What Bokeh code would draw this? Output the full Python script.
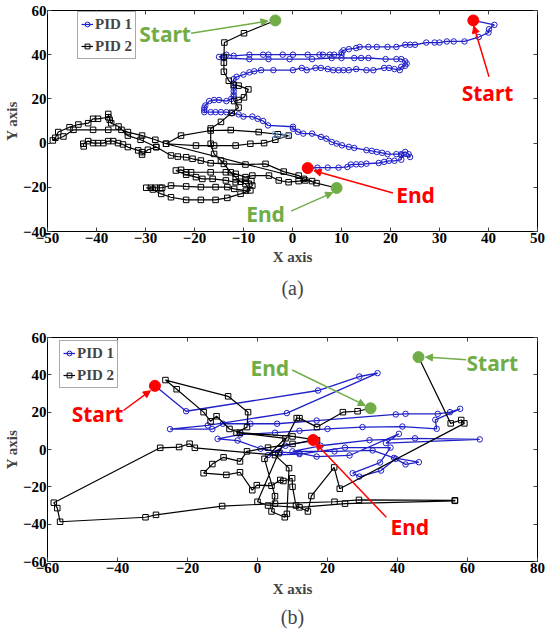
from bokeh.plotting import figure
from bokeh.models import (LinearAxis, FixedTicker, Label, Arrow, NormalHead,
                          Legend, LegendItem, Range1d)
from bokeh.layouts import column
from bokeh.embed import file_html
from bokeh.resources import INLINE

NaN = float("nan")

# ---------------- (a) data ----------------
a_pid1 = [(36.9,55.5),(41.2,53.5),(40.1,51.5),(40,50),(38,48),(35.1,46),(32.9,46),(31.5,46),(30,45.5),(29,45.5),
          (27.3,45.5),(25,44.5),(24,44.5),(23,44.5),(21.2,43.5),(19.4,43.5),(17.2,43.5),(15.5,43.5),(13.7,43.5),(13,43),
          (11.5,42.5),(10.4,42),(10,41),(10,40),(8.5,40),(7.6,40),(6.2,40),(5.5,40),(3.1,40),(0.1,40),(-2,40),(-4.9,40),
          (-6,40),(-8.8,40),(-12,39.5),(-13.5,40),(-15,39),(-14,38.5),(-8.8,38),(-4.9,38),(-0.6,38),(4,38),(8,38.5),
          (10,38.5),(12.6,38.5),(14,38.5),(15.5,38.5),(19,38),(21.2,38),(22.2,38),(23,37),(23.3,36),(23,35),(22.2,34.5),
          (21.9,33),(20.8,33.5),(19.7,34),(18.7,34),(16.5,33),(15.1,33),(13,33.5),(11.5,33),(10.4,33),(9.4,33),(8.3,33),
          (7.2,33.5),(5.8,34),(4.7,34),(2.9,33),(1.9,34),(0.1,33),(-3.9,33),(-6.4,33),(-7.8,32.5),(-8.8,32),(-10,31),
          (-11.4,30),(-12,29),(-12,27),(-12,25),(-12,23.5),(-12,22),(-12,21),(-12.5,20),(-13.5,19),(-15,19.5),(-16,19.5),
          (-17,19),(-17.8,17),(-18,16),(-18,15),(-18,14),(-16.7,14),(-15.7,14),(-14.6,14),(-13.5,14),(-12.4,13.5),(-11,13),
          (-10,12),(-8.2,12),(-7.1,11),(-6,10),(-5,8),(0.1,7.4),(0.1,6.5),(1.1,5.1),(2.2,4.3),(4,4.3),(5.8,2.8),(6.9,2),
          (8,0.5),(9,-0.2),(10.1,-1),(11.5,-1.7),(12.6,-2.2),(15.1,-3.2),(16.2,-3.5),(17.2,-4),(18.3,-4.4),(19.4,-5),
          (21.2,-5),(22.2,-5),(23,-4),(23.7,-5),(24,-6.3),(22.2,-5.5),(22.2,-7.5),(20.8,-8),(19.7,-8),(18.7,-8.5),
          (17.6,-9),(15.1,-9.3),(14,-9.6),(13,-9.6),(11.9,-9.7),(11.2,-10.8),(9.4,-11.1),(7.2,-11.1),(5.1,-11.1),(3.1,-11.3)]
a_pid1_x = [p[0] for p in a_pid1]
a_pid1_y = [p[1] for p in a_pid1]

a_pid2 = [(-3.5,55.5),(-9.9,49.7),(-13.9,45.5),(-14,39),(-14,36.4),(-14,32.3),(-13,28.2),(-12,26.3),(-11,26),(-9,24.3),
          (-9.9,20.7),(-11,19.5),(-11.9,19),(-11,16.1),(-12.4,13.7),(-14.6,9.6),(-16.7,6.6),(-16.7,-0.3),(-16,-4.9),
          (-14.6,-7.9),(-14,-9.4),(-12.6,-13.2),(-11.6,-15.5),(-10.6,-17.5),(-9.6,-18.5),(-8.6,-21.4),(-10.6,-22.95),
          (-13.3,-24.8),(-15.7,-25.7),(-18.7,-25.7),(-21.7,-25.7),(-24.8,-24.5),(-26.8,-23),(-28.5,-21),(-29.85,-20.2),
          (-28.9,-20.2),(-28,-20.2),(-27,-20.2),(-26.6,-20.2),(-24.8,-19.2),(-21.7,-19.6),(-18.7,-19.9),(-15.7,-19.9),
          (-13.3,-19.9),(-11.9,-20.7),(-9.5,-21.5),(-8.2,-19.2),(-8.4,-17.2),(-9.6,-17),(-11.6,-17.7),(-13.6,-16.9),
          (-16.3,-16.2),(-18.4,-16.2),(-19.7,-15.4),(-21.7,-14.3),(-23.8,-12.4),(-22.75,-12.1),(-21.7,-13.2),(-20.7,-13.2),
          (-16.7,-13.2),(-13.6,-13.2),(-11.6,-13.9),(-9.6,-15.4),(-8.2,-14.7),(-4.8,-14.7),(-2.8,-16.9),(-0.8,-17.7),
          (1.25,-17.2),(2.6,-16.9),(4,-17.2),(-25.8,-0.3),(-22.75,3.4),(-16.7,5.7),(-12.6,5.9),(-6.9,5),(-3,4),(-0.8,3.4),
          (-3.5,1.5),(-5.8,0),(-8.6,-0.3),(-11.6,-1.1),(-16,-1.1),(-19.7,-1.1),(-25.8,-0.3),(-28,1.5),(-30.7,3.4),
          (-33.6,5),(-34.9,6),(-37.6,6),(-40.7,6),(-44.7,6),(-46.75,3),(-48.9,1.2),(-48.4,2.4),(-47.8,5),(-45.5,7.2),
          (-43.7,8.4),(-41.7,9),(-40.7,11),(-39.7,11),(-37.6,11.7),(-37.6,13.2),(-37.3,10.5),(-37,9),(-35.5,7.5),
          (-33.6,3.4),(-31,1.5),(-27.8,-1.8),(-24.8,-5.6),(-23.4,-6.1),(-21.7,-6.4),(-20.4,-7.1),(-18.7,-7.9),(-16.7,-9.1),
          (-9.6,-9.7),(-5.5,-9.4),(-1.8,-12.9),(1.25,-14.7),(2.3,-16.2),(4.9,-18.1),(9,-20.3),
          (NaN,NaN),
          (-42.6,-1.5),(-42.7,-0.3),(-41.7,0.9),(-40.7,0),(-39.7,0),(-38.6,0),(-37.6,0.9),(-36.6,0.9),(-35.6,0),
          (-34.6,-0.6),(-33.6,-1.8),(-31.5,-3.3),(-30.7,-4.1),(-30.7,-5.2),(-29.5,-3),(-27.8,-1.8)]
a_pid2_x = [p[0] for p in a_pid2]
a_pid2_y = [p[1] for p in a_pid2]

# ---------------- (b) data ----------------
b_pid1 = [(-29.3,34.1),(-20.4,20.5),(17.3,31.6),(29.1,39.1),(34.3,40.9),(8.4,19.5),(-14.2,12.9),(-25,10.9),(-12.9,10.9),
          (-9.9,13.8),(-2,13.8),(5.6,13.8),(16.9,15.5),(39.5,18.8),(42.3,19.1),(51.5,19.1),(55,20),(57.9,21.8),(50.8,15.9),
          (51.2,11.1),(41.4,12.3),(30,12),(20,11),(12,10),(5,9),(-5,8),(-11.4,5.7),(-5.7,4.8),(0.9,0.4),(6.5,-1.4),(12,-2),
          (16.9,-3.8),(26.3,-3.2),(40.4,8.4),(36.7,3.4),(63.5,5.4),(45,6),(32,5),(18,2),(10,-1),(22,-1),(32.9,-0.5),
          (39,-4.5),(46.1,-6.8),(42.3,-8),(39.5,-5),(35.3,-11.3),(29.1,-14.5),(27.2,-12.7),(35,-7),(38,1),(25,1),(12,-2.5),
          (3,-3),(8,2),(15.9,5.1)]
b_pid1_x = [p[0] for p in b_pid1]
b_pid1_y = [p[1] for p in b_pid1]

b_pid2 = [(46,49.5),(55.2,14),(58.2,15.8),(59.1,14),(23.5,-21),(21.9,-9.6),(15.4,-24.9),(14.4,-33.2),(11,-30),(10,-20),
          (9.9,-15.4),(7.4,-16.9),(6.5,-16.3),(4,-19.4),(-0.2,-19.1),(-1.5,-21.8),(-5,-12.2),(-8.9,-13.6),(-15.4,-12.7),
          (-12.9,-7.8),(-9.7,-4.2),(-5,-6.4),(-3,-1),(3,1),(10,3),(17,5),(10,7),(-5,9),(-8,11),(-11.7,17.8),(-13.4,15.1),
          (-15.4,20),(-23.1,32.3),(-26.3,37.2),(-8.4,28.5),(-2.7,20),(-3,12),(-6,9),(8,6),(2,-5),(5,-25),(4,-33.2),
          (7.8,-36.3),(8.4,-34.5),(9,-10),(5,-3),(-17.9,0.9),(-19.4,3.1),(-22.4,1.3),(-27.8,0.9),(-58.2,-28.5),
          (-57.2,-31.4),(-56.4,-38.7),(-32,-36.3),(-29,-35),(-10.1,-30.3),(5,-29),(22,-28),(29,-27),(56.4,-27.2),
          (56.4,-27.5),(25,-29),(12,-31),(3,-30),(0,-28),(6,-2),(11.2,16.8),(12,16.8),(17,12),(24.4,20),(28.6,20.5),
          (32.3,22.1)]
b_pid2_x = [p[0] for p in b_pid2]
b_pid2_y = [p[1] for p in b_pid2]

series_labels = ["PID 1", "PID 2"]
a_xticks = [-50, -40, -30, -20, -10, 0, 10, 20, 30, 40, 50]
a_yticks = [-40, -20, 0, 20, 40, 60]
b_xticks = [-60, -40, -20, 0, 20, 40, 60, 80]
b_yticks = [-60, -40, -20, 0, 20, 40, 60]

BLUE = "#2020c8"
GREEN = "#70ad47"
RED = "#ff0000"
SERIF = "Liberation Serif"
SANS = "Noto Sans"


def make_fig(h, xr, yr, xt, yt, mb, caption, xlab_standoff, cap_standoff):
    p = figure(width=552, height=h, x_range=Range1d(*xr), y_range=Range1d(*yr),
               output_backend="svg", toolbar_location=None,
               min_border_left=mb[0], min_border_right=mb[1],
               min_border_top=mb[2], min_border_bottom=mb[3])
    p.xgrid.visible = False
    p.ygrid.visible = False
    p.outline_line_color = "black"
    p.outline_line_width = 1
    p.background_fill_color = "white"
    p.border_fill_color = "white"
    for ax, ticks, lab in ((p.xaxis[0], xt, "X axis"), (p.yaxis[0], yt, "Y axis")):
        ax.ticker = FixedTicker(ticks=ticks)
        ax.axis_label = lab
        ax.axis_label_text_font = SERIF
        ax.axis_label_text_font_style = "bold"
        ax.axis_label_text_font_size = "15px"
        ax.major_label_text_font = SERIF
        ax.major_label_text_font_style = "bold"
        ax.major_label_text_font_size = "15px"
        ax.major_label_text_color = "black"
        ax.major_label_standoff = 1
        ax.major_tick_in = 4
        ax.major_tick_out = 0
        ax.minor_tick_line_color = None
        ax.axis_line_color = None
        ax.major_tick_line_color = "#444444"
    p.xaxis[0].axis_label_standoff = xlab_standoff
    p.yaxis[0].axis_label_standoff = 0
    for loc, ticks in (("above", xt), ("right", yt)):
        ax = LinearAxis(ticker=FixedTicker(ticks=ticks), major_label_text_font_size="1px",
                        major_label_text_color=None,
                        major_label_standoff=0, major_tick_in=4, major_tick_out=0,
                        minor_tick_line_color=None, axis_line_color=None,
                        major_tick_line_color="#444444")
        p.add_layout(ax, loc)
    p.title.text = caption
    p.title_location = "below"
    p.title.align = "center"
    p.title.text_font = SERIF
    p.title.text_font_style = "normal"
    p.title.text_font_size = "20px"
    p.title.standoff = cap_standoff
    return p


def add_series(p, x1, y1, x2, y2, legend_loc):
    l1 = p.line(x1, y1, line_color=BLUE, line_width=1.3)
    s1 = p.scatter(x1, y1, marker="circle", size=5.5, line_color=BLUE, fill_color=None, line_width=1)
    l2 = p.line(x2, y2, line_color="black", line_width=1.2)
    s2 = p.scatter(x2, y2, marker="square", size=5.5, line_color="black", fill_color=None, line_width=1)
    leg = Legend(items=[LegendItem(label=series_labels[0], renderers=[l1, s1]),
                        LegendItem(label=series_labels[1], renderers=[l2, s2])],
                 location=legend_loc, label_text_font=SERIF, label_text_font_style="bold",
                 label_text_font_size="15px", glyph_width=12, glyph_height=18,
                 label_standoff=2, padding=3, spacing=4, margin=0,
                 border_line_color="#555555", border_line_width=1, label_height=18)
    p.add_layout(leg)


def note(p, x, y, text, color, size="21px"):
    p.add_layout(Label(x=x, y=y, text=text, text_color=color, text_font=SANS,
                       text_font_style="bold", text_font_size=size,
                       text_align="center", text_baseline="middle"))


def arrow(p, xs, ys, xe, ye, color):
    p.add_layout(Arrow(end=NormalHead(size=7, fill_color=color, line_color=color),
                       x_start=xs, y_start=ys, x_end=xe, y_end=ye,
                       line_color=color, line_width=1.5))


def dot(p, x, y, color):
    p.scatter([x], [y], marker="circle", size=11, fill_color=color, line_color=color)


# ---------------- figure (a) ----------------
pa = make_fig(310, (-50, 50), (-40, 60), a_xticks, a_yticks, (44, 15, 10, 79), "(a)", 3, 15)
add_series(pa, a_pid1_x, a_pid1_y, a_pid2_x, a_pid2_y, (30, 172))
dot(pa, -3.5, 55.5, GREEN)
dot(pa, 9, -20.3, GREEN)
dot(pa, 36.9, 55.5, RED)
dot(pa, 3.1, -11.3, RED)
note(pa, -26, 49.3, "Start", GREEN)
arrow(pa, -20.7, 49.7, -5.0, 55.2, GREEN)
note(pa, 39.8, 22.5, "Start", RED)
arrow(pa, 40.1, 30, 37.0, 53.0, RED)
note(pa, 25.1, -23.7, "End", RED)
arrow(pa, 20.5, -22.6, 4.4, -12.5, RED)
note(pa, -5.5, -32, "End", GREEN)
arrow(pa, -0.3, -30.8, 8.2, -22.4, GREEN)
pa.add_layout(Label(x=-2.3, y=3.8, text="Start", text_color="#5b9bd5", text_font=SANS,
                    text_font_size="9px", text_align="center", text_baseline="middle"))

# ---------------- figure (b) ----------------
pb = make_fig(323, (-60, 80), (-60, 60), b_xticks, b_yticks, (44, 12, 27, 72), "(b)", 5, 9)
add_series(pb, b_pid1_x, b_pid1_y, b_pid2_x, b_pid2_y, (12, 173))
dot(pb, -29.3, 34.1, RED)
dot(pb, 15.9, 5.1, RED)
dot(pb, 46, 49.5, GREEN)
dot(pb, 32.3, 22.1, GREEN)
note(pb, -45.7, 19, "Start", RED)
arrow(pb, -38.3, 20.9, -30.6, 31.5, RED)
note(pb, 3.5, 43.6, "End", GREEN)
arrow(pb, 9.9, 42.6, 30.8, 23.6, GREEN)
note(pb, 67.1, 46.6, "Start", GREEN)
arrow(pb, 59.6, 48.1, 48.0, 49.5, GREEN)
note(pb, 43.5, -41.7, "End", RED)
arrow(pb, 36.8, -36.3, 16.6, 3.4, RED)

layout = column(pa, pb, spacing=0)
open("out.html", "w").write(file_html(layout, INLINE))
